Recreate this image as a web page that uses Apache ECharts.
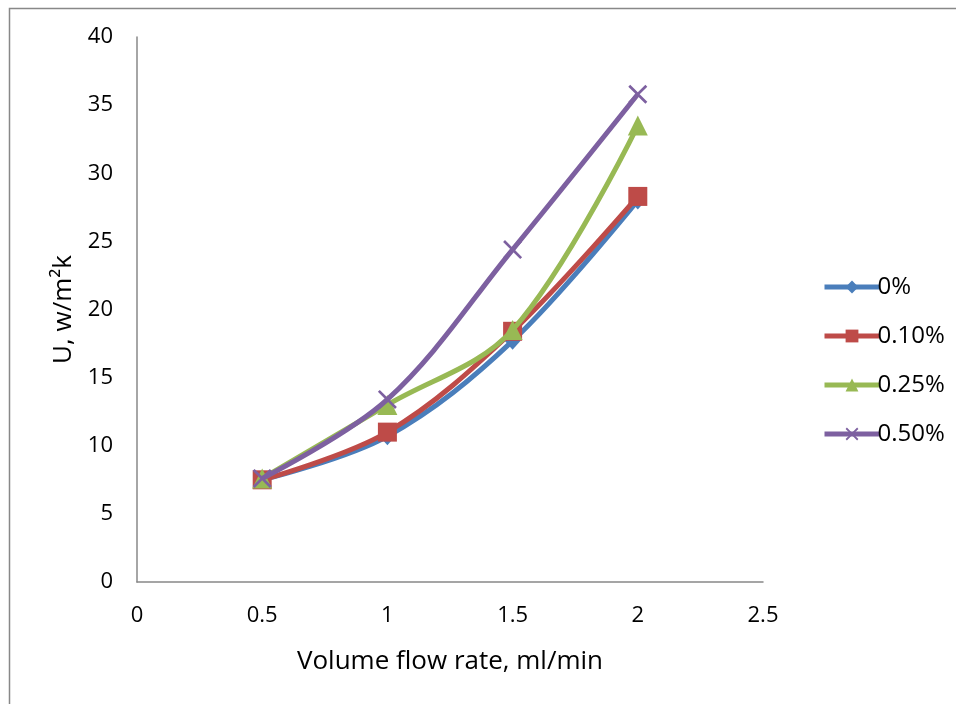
<!DOCTYPE html>
<html><head><meta charset="utf-8">
<script src="https://cdn.jsdelivr.net/npm/echarts@6/dist/echarts.min.js"></script>
<style>html,body{margin:0;padding:0;background:#fff}#c{width:956px;height:704px}</style>
</head><body><div id="c"></div>
<script>
const xValues = [0.5, 1, 1.5, 2];
const seriesNames = ['0%', '0.10%', '0.25%', '0.50%'];
const s0 = [7.5, 10.7, 17.7, 28.0];
const s1 = [7.5, 11.0, 18.4, 28.3];
const s2 = [7.6, 13.0, 18.5, 33.5];
const s3 = [7.6, 13.4, 24.4, 35.8];
const xTicks = [0, 0.5, 1, 1.5, 2, 2.5];
const yTicks = [0, 5, 10, 15, 20, 25, 30, 35, 40];

const colors = ['#4A7EBB', '#BE4B48', '#98B954', '#7D60A0'];
const symbols = ['diamond', 'rect', 'triangle', 'path://M0,1L1,0L5,4L9,0L10,1L6,5L10,9L9,10L5,6L1,10L0,9L4,5Z'];
const sizes = [[16, 18], 19, 20, 19];
const data = [s0, s1, s2, s3];
const font = '"Open Sans", sans-serif';

const chart = echarts.init(document.getElementById('c'));
chart.setOption({
  animation: false,
  backgroundColor: '#fff',
  graphic: [{type: 'rect', shape: {x: 9.5, y: 8.5, width: 1000, height: 1000}, style: {fill: 'none', stroke: '#888', lineWidth: 1.5}, silent: true}],
  grid: {left: 137, right: 193, top: 37, bottom: 122},
  xAxis: {
    type: 'value', min: 0, max: 2.5, interval: 0.5,
    name: 'Volume flow rate, ml/min', nameLocation: 'middle', nameGap: 67,
    nameTextStyle: {fontFamily: font, fontSize: 26, color: '#000'},
    axisLine: {lineStyle: {color: '#888', width: 1.5}},
    axisTick: {show: false}, splitLine: {show: false},
    axisLabel: {fontFamily: font, fontSize: 22, color: '#000', margin: 23,
      formatter: v => String(v)}
  },
  yAxis: {
    type: 'value', min: 0, max: 40, interval: 5,
    name: 'U, w/m\u00b2k', nameLocation: 'middle', nameGap: 60, nameRotate: 90,
    nameTextStyle: {fontFamily: font, fontSize: 26, color: '#000'},
    axisLine: {show: true, lineStyle: {color: '#888', width: 1.5}},
    axisTick: {show: false}, splitLine: {show: false},
    axisLabel: {fontFamily: font, fontSize: 22, color: '#000', margin: 24}
  },
  legend: {
    orient: 'vertical', left: 817, top: 270, itemGap: 25,
    itemWidth: 55, itemHeight: 16,
    lineStyle: {width: 5},
    textStyle: {fontFamily: font, fontSize: 24, color: '#000', padding: [0,0,0,-7]},
    data: seriesNames
  },
  series: seriesNames.map((n, i) => ({
    name: n, type: 'line', smooth: 0.35,
    data: xValues.map((x, j) => [x, data[i][j]]),
    symbol: symbols[i], symbolSize: sizes[i],
    lineStyle: {color: colors[i], width: 5},
    itemStyle: {color: colors[i]},
    z: 2 + i
  }))
});
</script></body></html>
